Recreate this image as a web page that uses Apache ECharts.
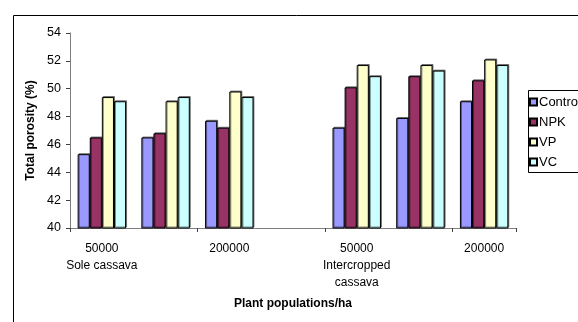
<!DOCTYPE html>
<html>
<head>
<meta charset="utf-8">
<script src="https://cdn.jsdelivr.net/npm/echarts@6/dist/echarts.min.js"></script>
<style>
html,body{margin:0;padding:0;background:#fff;}
#c{width:578px;height:322px;}
</style>
</head>
<body>
<div id="c"></div>
<script>
const categories = ["50000\nSole cassava", "100000", "200000", "", "50000\nIntercropped\ncassava", "100000", "200000"];
const seriesNames = ["Control", "NPK", "VP", "VC"];
const control = [45.3, 46.5, 47.7, '-', 47.2, 47.9, 49.1];
const npk     = [46.5, 46.8, 47.2, '-', 50.1, 50.9, 50.6];
const vp      = [49.4, 49.1, 49.8, '-', 51.7, 51.7, 52.1];
const vc      = [49.1, 49.4, 49.4, '-', 50.9, 51.3, 51.7];
const yTicks = { min: 40, max: 54, interval: 2 };
const xTitle = "Plant populations/ha";
const yTitle = "Total porosity (%)";

const colors = ["#9999FF", "#993366", "#FFFFCC", "#CCFFFF"];
const seriesData = [control, npk, vp, vc];
const font = "'Liberation Sans', Arial, sans-serif";

const chart = echarts.init(document.getElementById('c'), null, {renderer: 'canvas'});
chart.setOption({
  animation: false,
  backgroundColor: '#fff',
  textStyle: { fontFamily: font },
  grid: { left: 70, right: 62, top: 33, bottom: 94, containLabel: false },
  legend: {
    orient: 'vertical',
    left: 529, top: 95,
    padding: 0,
    itemWidth: 7, itemHeight: 7, itemGap: 6,
    icon: 'rect',
    textStyle: { fontFamily: font, fontSize: 13, lineHeight: 14, color: '#000', padding: [0,0,0,-3] },
    data: seriesNames
  },
  xAxis: {
    type: 'category',
    data: categories,
    axisLine: { lineStyle: { color: '#808080', width: 1 } },
    axisTick: { show: true, length: 4, lineStyle: { color: '#404040' } },
    axisLabel: { interval: 1, color: '#000', fontSize: 12, fontFamily: font, margin: 12, lineHeight: 17 },
    name: xTitle,
    nameLocation: 'middle',
    nameGap: 70,
    nameTextStyle: { fontWeight: 'bold', fontSize: 12, color: '#000', fontFamily: font }
  },
  yAxis: {
    type: 'value',
    min: yTicks.min, max: yTicks.max, interval: yTicks.interval,
    splitLine: { show: false },
    axisLine: { show: true, lineStyle: { color: '#808080', width: 1 } },
    axisTick: { show: true, length: 4, lineStyle: { color: '#404040' } },
    axisLabel: { color: '#000', fontSize: 12.5, fontFamily: font, margin: 9 },
    name: yTitle,
    nameLocation: 'middle',
    nameGap: 33,
    nameRotate: 90,
    nameTextStyle: { fontWeight: 'bold', fontSize: 12, color: '#000', fontFamily: font }
  },
  series: seriesNames.map((n, i) => ({
    name: n,
    type: 'bar',
    data: seriesData[i],
    barGap: '0%',
    barCategoryGap: '24%',
    itemStyle: {
      color: colors[i],
      borderColor: '#000',
      borderWidth: 1,
      shadowColor: 'rgba(0,0,0,0.45)',
      shadowOffsetX: 1,
      shadowOffsetY: -1,
      shadowBlur: 0
    }
  })),
  graphic: [
    { type: 'rect', left: 11, top: 13, shape: { width: 600, height: 400 }, style: { fill: 'none', stroke: '#000', lineWidth: 1 }, silent: true, z: -1 },
    { type: 'rect', left: 526, top: 88, shape: { width: 80, height: 82 }, style: { fill: 'none', stroke: '#000', lineWidth: 1 }, silent: true }
  ]
});
</script>
</body>
</html>
